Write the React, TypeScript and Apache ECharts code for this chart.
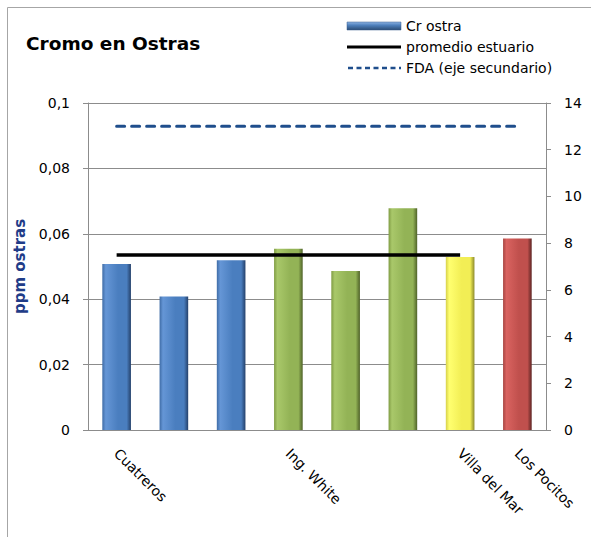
import React, { useEffect, useRef } from "react";
import * as echarts from "echarts";

const categories = ["Cuatreros", "", "", "Ing. White", "", "", "Villa del Mar", "Los Pocitos"];
const crOstra = [0.0508, 0.0408, 0.0519, 0.0554, 0.0486, 0.0678, 0.0529, 0.0586];
const promedioEstuario = [0.0535, 0.0535, 0.0535, 0.0535, 0.0535, 0.0535, 0.0535, null];
const fda = [13, 13, 13, 13, 13, 13, 13, 13];
const barPalette = ["blue", "blue", "blue", "green", "green", "green", "yellow", "red"];
const legendNames = ["Cr ostra", "promedio estuario", "FDA (eje secundario)"];

const shades: Record<string, [string, string, string, string]> = {
  blue: ["#3f6ca6", "#6596d6", "#4a7ebf", "#24406a"],
  green: ["#809c44", "#a9c86a", "#93b356", "#4f6228"],
  yellow: ["#d6d04a", "#ffff70", "#f2ee55", "#8c8a2c"],
  red: ["#a74542", "#d96360", "#c0504d", "#5e2523"],
};

function grad(name: string) {
  const s = shades[name];
  return new echarts.graphic.LinearGradient(0, 0, 1, 0, [
    { offset: 0, color: s[0] },
    { offset: 0.12, color: s[1] },
    { offset: 0.55, color: s[2] },
    { offset: 0.85, color: s[2] },
    { offset: 1, color: s[3] },
  ]);
}

const FONT = "DejaVu Sans";
const NAVY = "#1f4e8c";

export default function App() {
  const ref = useRef<HTMLDivElement>(null);
  useEffect(() => {
    document.body.style.margin = "0";
    const chart = echarts.init(ref.current!, null, { renderer: "svg" });
    const lx = 347;
    const lw = 54;
    const rows = [26, 47, 68];
    chart.setOption({
      animation: false,
      backgroundColor: "#fff",
      textStyle: { fontFamily: FONT },
      title: {
        text: "Cromo en Ostras",
        left: 21,
        top: 29,
        textStyle: { fontFamily: FONT, fontSize: 18.5, fontWeight: "bold", color: "#000" },
      },
      graphic: [
        {
          type: "rect",
          shape: { x: 7.5, y: 7.5, width: 700, height: 700 },
          style: { fill: "none", stroke: "#a6a6a6", lineWidth: 1 },
          silent: true,
        },
        {
          type: "rect",
          shape: { x: lx, y: rows[0] - 4, width: lw, height: 8 },
          style: {
            fill: new echarts.graphic.LinearGradient(0, 0, 0, 1, [
              { offset: 0, color: "#8db3e2" },
              { offset: 0.4, color: "#4f81bd" },
              { offset: 1, color: "#2c4d75" },
            ]),
            stroke: "#3a5f8f",
            lineWidth: 0.5,
          },
        },
        {
          type: "line",
          shape: { x1: lx, y1: rows[1], x2: lx + lw, y2: rows[1] },
          style: { stroke: "#000", lineWidth: 3 },
        },
        {
          type: "line",
          shape: { x1: lx + 1, y1: rows[2], x2: lx + lw, y2: rows[2] },
          style: { stroke: NAVY, lineWidth: 2.5, lineDash: [5, 3.5] },
        },
        ...legendNames.map((n, i) => ({
          type: "text",
          x: lx + lw + 5,
          y: rows[i],
          style: {
            text: n,
            fontFamily: FONT,
            fontSize: 14,
            fill: "#000",
            verticalAlign: "middle",
            align: "left",
          },
        })),
      ],
      grid: { left: 88, right: 45, top: 103, bottom: 107 },
      xAxis: {
        type: "category",
        data: categories,
        axisLine: { lineStyle: { color: "#8c8c8c" } },
        axisTick: { length: 5, lineStyle: { color: "#8c8c8c" } },
        axisLabel: {
          interval: 0,
          rotate: -45,
          margin: 21,
          fontSize: 14,
          fontFamily: FONT,
          color: "#000",
        },
      },
      yAxis: [
        {
          type: "value",
          min: 0,
          max: 0.1,
          interval: 0.02,
          name: "ppm ostras",
          nameLocation: "middle",
          nameGap: 61,
          nameTextStyle: { fontFamily: FONT, fontSize: 15, fontWeight: "bold", color: "#1f3c88" },
          axisLine: { show: true, lineStyle: { color: "#8c8c8c" } },
          axisTick: { show: true, length: 5, lineStyle: { color: "#8c8c8c" } },
          splitLine: { lineStyle: { color: "#8c8c8c" } },
          axisLabel: {
            fontSize: 14,
            fontFamily: FONT,
            color: "#000",
            margin: 18,
            formatter: (v: number) => (v === 0 ? "0" : String(Number(v.toFixed(2))).replace(".", ",")),
          },
        },
        {
          type: "value",
          min: 0,
          max: 14,
          interval: 2,
          position: "right",
          axisLine: { show: true, lineStyle: { color: "#8c8c8c" } },
          axisTick: { show: true, length: 5, lineStyle: { color: "#8c8c8c" } },
          splitLine: { show: false },
          axisLabel: { fontSize: 14, fontFamily: FONT, color: "#000", margin: 18 },
        },
      ],
      series: [
        {
          name: "Cr ostra",
          type: "bar",
          barWidth: "50%",
          itemStyle: { color: grad("blue") },
          data: crOstra.map((v, i) => ({ value: v, itemStyle: { color: grad(barPalette[i]) } })),
        },
        {
          name: "promedio estuario",
          type: "line",
          symbol: "none",
          color: "#000",
          lineStyle: { color: "#000", width: 3.5 },
          data: promedioEstuario,
        },
        {
          name: "FDA (eje secundario)",
          type: "line",
          yAxisIndex: 1,
          symbol: "none",
          color: NAVY,
          lineStyle: { color: NAVY, width: 3, type: [8, 7], cap: "round" },
          data: fda,
        },
      ],
    });
    return () => chart.dispose();
  }, []);
  return <div ref={ref} style={{ width: 591, height: 537 }} />;
}
